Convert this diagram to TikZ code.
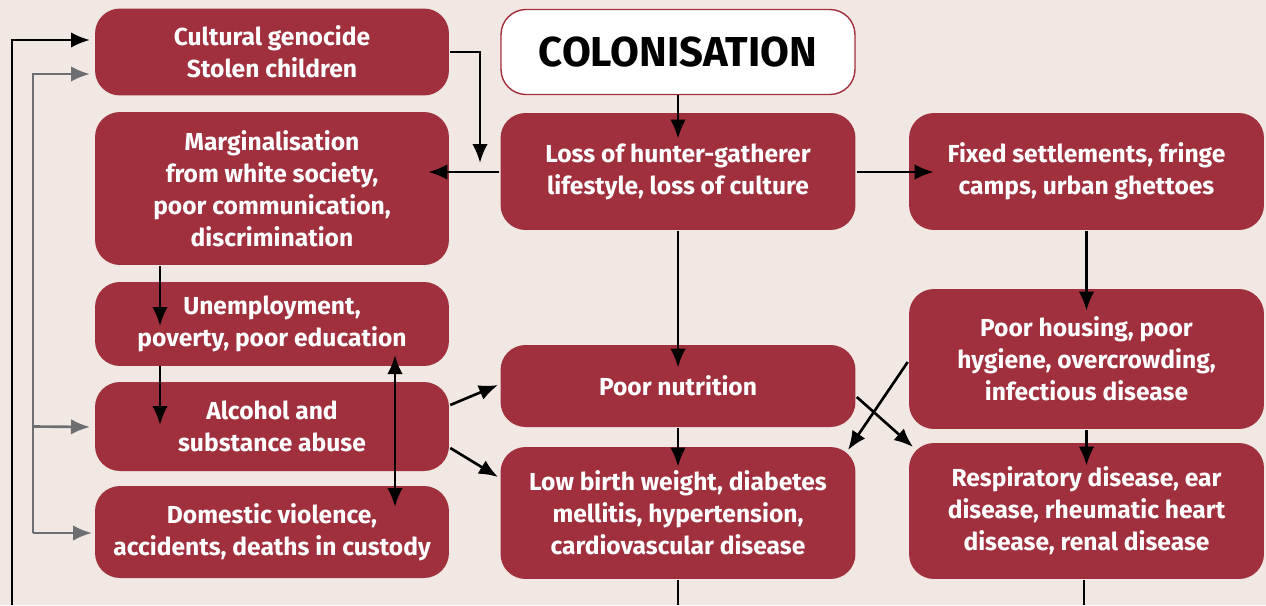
\documentclass[tikz,border=0pt]{standalone}
\usepackage{fontspec}
\setsansfont{Fira Sans}
\usepackage{xcolor}
\usepackage{tikz}
\usetikzlibrary{arrows.meta, positioning, calc}

\definecolor{boxred}{HTML}{A0303D}
\definecolor{bgpink}{HTML}{F2E8E3}
\definecolor{loopgray}{HTML}{6D6E71}

\begin{document}
\begin{tikzpicture}[x=0.02cm, y=-0.02cm, >={Latex[length=3.8mm, width=3.1mm]}, line width=1.5pt]
        \tikzstyle{box} = [rectangle, rounded corners=0.5cm, text centered, align=center, inner sep=0pt, minimum width=7.08cm]
        \tikzstyle{redBox} = [box, fill=boxred, text=white, font=\sffamily\bfseries\fontsize{14pt}{18.2pt}\selectfont]
        \tikzstyle{titleBox} = [box, fill=white, draw=boxred, line width=0.8pt, font=\sffamily\bfseries\fontsize{23.8pt}{26pt}\selectfont]
        \tikzstyle{loop} = [->, draw=loopgray]

        \useasboundingbox (0,0) rectangle (1266,605);
        \fill[bgpink] (0,0) rectangle (1266,605);

        % left column
        \node[redBox, minimum height=1.74cm] (cult) at (272,52) {Cultural genocide\\Stolen children};
        \node[redBox, minimum height=3.06cm] (marg) at (272,188.5) {Marginalisation\\from white society,\\poor communication,\\discrimination};
        \node[redBox, minimum height=1.68cm] (unemp) at (272,324) {Unemployment,\\poverty, poor education};
        \node[redBox, minimum height=1.78cm] (alc) at (272,426.5) {Alcohol and\\substance abuse};
        \node[redBox, minimum height=1.84cm] (dom) at (272,532) {Domestic violence,\\accidents, deaths in custody};

        % middle column
        \node[titleBox, minimum height=1.70cm] (colon) at (678,52) {COLONISATION};
        \node[redBox, minimum width=7.10cm, minimum height=2.34cm] (loss) at (678,171.5) {Loss of hunter-gatherer\\lifestyle, loss of culture};
        \node[redBox, minimum width=7.10cm, minimum height=1.64cm] (nutr) at (678,386) {Poor nutrition};
        \node[redBox, minimum width=7.10cm, minimum height=2.64cm] (lbw) at (678,513) {Low birth weight, diabetes\\mellitis, hypertension,\\cardiovascular disease};

        % right column
        \node[redBox, minimum width=7.10cm, minimum height=2.34cm] (fixed) at (1086.5,171.5) {Fixed settlements, fringe\\camps, urban ghettoes};
        \node[redBox, minimum width=7.10cm, minimum height=2.80cm] (hous) at (1086.5,359) {Poor housing, poor\\hygiene, overcrowding,\\infectious disease};
        \node[redBox, minimum width=7.10cm, minimum height=2.72cm] (resp) at (1086.5,511) {Respiratory disease, ear\\disease, rheumatic heart\\disease, renal disease};

        % free ends
        \coordinate (drop) at (480,163);
        \coordinate (lbwOut) at (678,605);
        \coordinate (respOut) at (1084,605);
        \coordinate (loopIn) at (12,605);
        \coordinate (grayTop) at (33,74);
        \coordinate (grayBot) at (33,533);

        \draw[->] (colon.south) -- ($(loss.north)+(0,27)$);
        \draw[->] (cult.east) -| (drop);
        \draw[->] (loss.west |- 0,172) -- ($(marg.east |- 0,172)+(-22,0)$);
        \draw[->] (loss.east |- 0,172) -- ($(fixed.west |- 0,172)+(26,0)$);

        \draw[->] (160,266) -- (160,326);
        \draw[->] (160,366) -- (160,425);
        \draw[<->] (395,355) -- (395,507);

        \draw[->] (alc.east |- 0,405) -- (498,385);
        \draw[->] (alc.east |- 0,448) -- (498,477);

        \draw[->] (loss.south) -- ($(nutr.north)+(0,24)$);
        \draw[->] (nutr.south) -- ($(lbw.north)+(0,21)$);
        \draw (lbw.south) -- (lbwOut);

        \draw[->] (fixed.south) -- ($(hous.north)+(0,23)$);
        \draw[->] (hous.south) -- ($(resp.north)+(0,24)$);
        \draw (resp.south -| respOut) -- (respOut);

        \draw[->] (hous.west |- 0,362) -- (848,450);
        \draw[->] (nutr.east |- 0,397) -- (913,447);

        \draw[->] (loopIn) |- (90,40);
        \draw[loop] (grayBot) -- (grayTop) -- (90,74);
        \draw[loop] (grayTop |- alc) -- (90,427);
        \draw[loop] (grayBot) -- (92,533);
\end{tikzpicture}
\end{document}
